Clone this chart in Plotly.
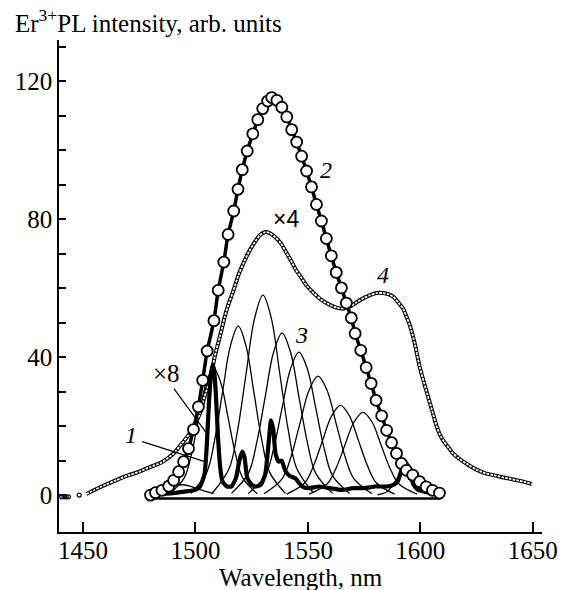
import plotly.graph_objects as go

# ---------------- data ----------------
# curve 2: large open circles + thick fitted line
c2_x = [1480.0, 1482.2, 1485.1, 1488.1, 1490.3, 1492.5, 1494.7, 1496.9, 1499.1, 1501.3,
        1503.2, 1505.2, 1508.2, 1510.1, 1512.6, 1514.5, 1517.0, 1518.9, 1520.8, 1523.0,
        1525.5, 1527.7, 1529.9, 1532.1, 1533.9, 1536.2, 1538.4, 1540.6, 1542.8, 1545.0,
        1547.2, 1549.4, 1551.6, 1553.8, 1556.0, 1558.2, 1560.4, 1562.6, 1564.9, 1567.1,
        1569.3, 1571.0, 1573.5, 1575.9, 1578.1, 1580.3, 1582.8, 1585.0, 1587.2, 1589.4,
        1591.6, 1593.8, 1596.6, 1599.7, 1602.6, 1605.4, 1608.5]
c2_y = [0.0, 0.7, 1.4, 2.6, 4.3, 6.8, 9.7, 13.5, 19.0, 25.6,
        33.3, 41.8, 50.6, 59.4, 67.6, 75.6, 82.4, 88.7, 94.4, 99.8,
        104.8, 108.9, 112.1, 114.3, 115.3, 114.5, 112.5, 109.7, 106.0, 102.4,
        98.3, 94.0, 89.4, 84.3, 79.5, 74.4, 69.4, 64.6, 60.1, 55.7,
        51.4, 46.9, 42.0, 37.0, 32.4, 27.5, 23.0, 18.8, 15.2, 12.1,
        9.2, 7.2, 5.8, 3.9, 2.4, 1.4, 0.6]

# curve 4 (x4): small open circles
c4_x = [1451.4, 1455, 1460, 1465, 1470, 1475, 1480, 1485, 1490, 1494, 1497, 1500, 1502,
        1504, 1506.4, 1508.5, 1510.8, 1513, 1514.5, 1516.7, 1519.2, 1521.5, 1523.3, 1526,
        1528.5, 1531, 1533, 1535.5, 1538, 1540, 1542.4, 1544.5, 1546.8, 1549.5, 1552.7,
        1556, 1560, 1563, 1566, 1569, 1571.8, 1575, 1577.7, 1580.5, 1583.5, 1586, 1588,
        1590.3, 1592.4, 1594, 1595.3, 1597.5, 1599.7, 1602.6, 1605.6, 1607, 1608.5, 1610.5,
        1612.9, 1614.5, 1617, 1621.7, 1625, 1629, 1632.5, 1636.4, 1640, 1643.7, 1647, 1649.6]
c4_y = [0.3, 1.5, 3.0, 4.4, 5.7, 6.8, 8.2, 9.5, 11.9, 15.0, 17.5, 21.0, 23.7,
        28.5, 33.3, 40.0, 45.9, 51.7, 55.0, 59.0, 64.0, 67.5, 70.0, 73.0,
        75.3, 76.3, 76.0, 74.8, 73.0, 70.8, 68.1, 65.5, 63.3, 60.7, 58.5,
        56.6, 55.1, 54.3, 54.1, 54.8, 56.0, 57.2, 58.0, 58.6, 58.6, 58.2, 57.5,
        55.8, 54.0, 51.5, 49.3, 44.0, 37.2, 30.4, 23.7, 20.5, 17.8, 15.5,
        13.5, 12.1, 10.7, 8.6, 7.4, 6.3, 5.8, 5.2, 4.7, 4.2, 3.7, 3.2]
c4_left_x = [1440.5, 1441.5, 1442.5, 1443.5, 1448.3]
c4_left_y = [-0.5, -0.5, -0.5, -0.5, 0.0]

# curve 1 (x8): thick line with narrow peaks
c1_x = [1480, 1490, 1495, 1500, 1502, 1504, 1505, 1506, 1507, 1507.6, 1508.2, 1509, 1510,
        1511, 1512, 1514, 1516, 1518, 1519.5, 1520.8, 1521.8, 1523, 1525, 1527, 1529,
        1531, 1532.5, 1533.6, 1534.6, 1535.6, 1537, 1538.3, 1540, 1542, 1544.6, 1546,
        1547.5, 1550, 1555, 1560, 1565, 1570, 1575, 1580, 1585, 1588, 1590, 1591.5,
        1593.5, 1594.5, 1595.5, 1597, 1599, 1602, 1606, 1610]
c1_y = [0.3, 0.6, 1.0, 1.5, 2.5, 6, 14, 27, 35.5, 37.7, 36.5, 30, 17,
        8, 4, 2.5, 2.5, 5, 10, 12.6, 11, 5, 3, 2.5, 3,
        6, 15, 21.7, 19, 12, 9.7, 10, 7, 5.5, 4.8, 3.5,
        2.5, 2.0, 2.5, 2.0, 1.5, 2.0, 2.0, 2.5, 2.5, 3, 4, 7,
        9.2, 8.5, 6, 3, 1.5, 1.0, 0.5, 0.3]

# curves 3: decomposition components (thin lines)
g_a_x = [1480, 1487, 1490.5, 1494, 1497.5, 1501, 1508]
g_a_y = [0.4, 1.8, 2.6, 3.0, 2.6, 1.8, 0.4]
g_b_x = [1488.5, 1495, 1498.25, 1501.5, 1504.75, 1508, 1511.25, 1514.5, 1517.75, 1521, 1527.5]
g_b_y = [0.4, 5.0, 12.0, 22.5, 32.6, 37, 32.6, 22.5, 12.0, 5.0, 0.4]
g_c_x = [1498, 1505, 1508.5, 1512, 1515.5, 1519, 1522.5, 1526, 1529.5, 1533, 1540]
g_c_y = [0.5, 6.6, 15.9, 29.7, 43.2, 49, 43.2, 29.7, 15.9, 6.6, 0.5]
g_d_x = [1507.5, 1515, 1518.75, 1522.5, 1526.25, 1530, 1533.75, 1537.5, 1541.25, 1545, 1552.5]
g_d_y = [0.6, 7.8, 18.9, 35.2, 51.2, 58, 51.2, 35.2, 18.9, 7.8, 0.6]
g_e_x = [1516, 1523.5, 1527.25, 1531, 1534.75, 1538.5, 1542.25, 1546, 1549.75, 1553.5, 1561]
g_e_y = [0.5, 6.3, 15.3, 28.5, 41.5, 47, 41.5, 28.5, 15.3, 6.3, 0.5]
g_f_x = [1523.5, 1531, 1534.75, 1538.5, 1542.25, 1546, 1549.75, 1553.5, 1557.25, 1561, 1568.5]
g_f_y = [0.5, 5.6, 13.5, 25.2, 36.6, 41.5, 36.6, 25.2, 13.5, 5.6, 0.5]
g_g_x = [1530.5, 1538.5, 1542.5, 1546.5, 1550.5, 1554.5, 1558.5, 1562.5, 1566.5, 1570.5, 1578.5]
g_g_y = [0.4, 4.7, 11.2, 20.9, 30.4, 34.5, 30.4, 20.9, 11.2, 4.7, 0.4]
g_h_x = [1540.5, 1548.5, 1552.5, 1556.5, 1560.5, 1564.5, 1568.5, 1572.5, 1576.5, 1580.5, 1588.5]
g_h_y = [0.3, 3.5, 8.5, 15.8, 22.9, 26, 22.9, 15.8, 8.5, 3.5, 0.3]
g_i_x = [1550.5, 1558.5, 1562.5, 1566.5, 1570.5, 1574.5, 1578.5, 1582.5, 1586.5, 1590.5, 1598.5]
g_i_y = [0.3, 3.2, 7.8, 14.6, 21.2, 24, 21.2, 14.6, 7.8, 3.2, 0.3]
g_j_x = [1581, 1585, 1587, 1589, 1591, 1593, 1595, 1597, 1599, 1601, 1605]
g_j_y = [0.1, 0.9, 2.3, 4.2, 6.2, 7, 6.2, 4.2, 2.3, 0.9, 0.1]
components = [(g_a_x, g_a_y), (g_b_x, g_b_y), (g_c_x, g_c_y), (g_d_x, g_d_y), (g_e_x, g_e_y),
              (g_f_x, g_f_y), (g_g_x, g_g_y), (g_h_x, g_h_y), (g_i_x, g_i_y), (g_j_x, g_j_y)]

base_x = [1481, 1609]
base_y = [-1.0, -1.0]

x_ticks = [1450, 1500, 1550, 1600, 1650]
y_ticks = list(range(0, 131, 10))
y_labels = [str(v) if v % 40 == 0 else "" for v in y_ticks]

# ---------------- figure ----------------
SERIF = "Liberation Serif, Times New Roman, serif"
SANS = "Liberation Sans, Arial, sans-serif"
fig = go.Figure()

for gx, gy in components:
    fig.add_trace(go.Scatter(x=gx, y=gy, mode="lines",
                             line=dict(color="black", width=1.3, shape="spline", smoothing=1.0),
                             hoverinfo="skip"))

fig.add_trace(go.Scatter(x=base_x, y=base_y, mode="lines",
                         line=dict(color="black", width=2.5)))

# curve 4 drawn as a chain of tiny hollow links
fig.add_trace(go.Scatter(x=c4_x, y=c4_y, mode="lines",
                         line=dict(color="black", width=4.0, shape="spline", smoothing=0.6)))
fig.add_trace(go.Scatter(x=c4_x, y=c4_y, mode="lines",
                         line=dict(color="white", width=1.8, shape="spline", smoothing=0.6,
                                   dash="2.6px,1.2px")))
fig.add_trace(go.Scatter(x=c4_left_x, y=c4_left_y, mode="markers",
                         marker=dict(symbol="circle-open", size=4, color="black",
                                     line=dict(width=1.2, color="black"))))

# curve 1 (x8)
fig.add_trace(go.Scatter(x=c1_x, y=c1_y, mode="lines",
                         line=dict(color="black", width=4.2, shape="spline", smoothing=0.5)))

# curve 2
fig.add_trace(go.Scatter(x=c2_x, y=c2_y, mode="lines+markers",
                         line=dict(color="black", width=3.5, shape="spline", smoothing=0.6),
                         marker=dict(symbol="circle", size=11, color="white",
                                     line=dict(width=1.8, color="black"))))

# labels
ann = []
def lab(x, y, text, size=24, italic=False, family=SERIF):
    t = f"<i>{text}</i>" if italic else text
    ann.append(dict(x=x, y=y, xref="x", yref="y", text=t, showarrow=False,
                    font=dict(family=family, size=size, color="black"),
                    xanchor="center", yanchor="middle"))

lab(1558.2, 94.2, "2", italic=True)
lab(1540.4, 80.2, "×4", size=23, family=SANS)
lab(1583.5, 63.8, "4", italic=True)
lab(1547.3, 46.4, "3", italic=True)
lab(1487.3, 35.3, "×8", size=25)
lab(1471.2, 17.4, "1", italic=True)

ann.append(dict(x=-0.095, y=1.0386, xref="paper", yref="paper",
                text="Er<sup>3+</sup>PL intensity, arb. units", showarrow=False,
                font=dict(family=SERIF, size=25, color="black"),
                xanchor="left", yanchor="middle"))
ann.append(dict(x=0.5, y=-0.0925, xref="paper", yref="paper",
                text="Wavelength, nm", showarrow=False,
                font=dict(family=SERIF, size=25, color="black"),
                xanchor="center", yanchor="middle"))

shapes = [
    dict(type="line", xref="x", yref="y", x0=1490.4, y0=30.9, x1=1505.0, y1=17.9,
         line=dict(color="black", width=1.2)),
    dict(type="line", xref="x", yref="y", x0=1476.3, y0=15.5, x1=1504.2, y1=9.7,
         line=dict(color="black", width=1.2)),
]

fig.update_layout(
    width=570, height=590,
    margin=dict(l=59, r=23, t=40, b=58),
    paper_bgcolor="white", plot_bgcolor="white",
    showlegend=False,
    annotations=ann, shapes=shapes,
    font=dict(family=SERIF, size=24, color="black"),
    xaxis=dict(range=[1439.3, 1654.1], showgrid=False, zeroline=False,
               showline=True, linecolor="black", linewidth=1.5,
               ticks="inside", ticklen=10, tickwidth=1.5, tickcolor="black",
               tickvals=x_ticks, ticktext=[str(v) for v in x_ticks],
               ticklabelstandoff=-5,
               tickfont=dict(family=SERIF, size=25, color="black")),
    yaxis=dict(range=[-10.7, 132], showgrid=False, zeroline=False,
               showline=True, linecolor="black", linewidth=1.5,
               ticks="inside", ticklen=7, tickwidth=1.5, tickcolor="black",
               tickvals=y_ticks, ticktext=y_labels,
               tickfont=dict(family=SERIF, size=25, color="black")),
)

fig.write_html("out.html")
